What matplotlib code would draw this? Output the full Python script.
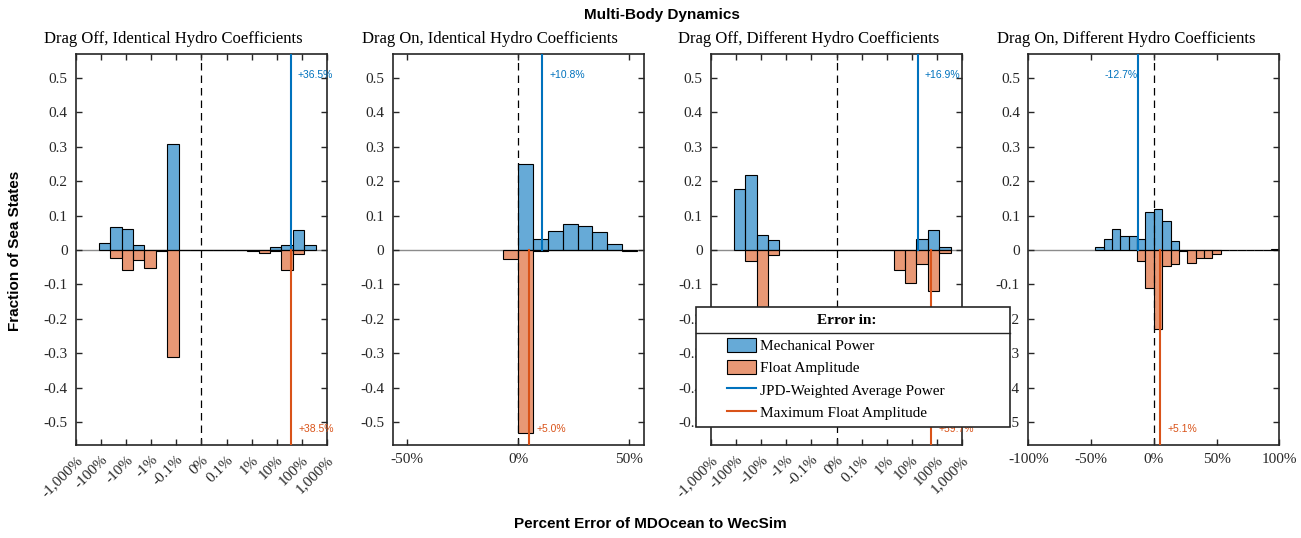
#!/usr/bin/env python3
"""Multi-Body Dynamics: histograms of percent error, MDOcean vs WecSim."""

import numpy as np
import matplotlib.pyplot as plt
from matplotlib.colors import to_rgba
from matplotlib.patches import Rectangle, Patch
from matplotlib.lines import Line2D

W, H = 1301, 538

TITLES = [
    "Drag Off, Identical Hydro Coefficients",
    "Drag On, Identical Hydro Coefficients",
    "Drag Off, Different Hydro Coefficients",
    "Drag On, Different Hydro Coefficients",
]

# symlog panels: fraction of sea states per bin, 22 bins spanning -1,000% .. 1,000%
P1_POWER = [0, 0, 0.020, 0.066, 0.062, 0.014, 0, 0, 0.309, 0, 0,
            0, 0, 0, 0, 0, 0, 0.010, 0.015, 0.057, 0.014, 0]
P1_AMP = [0, 0, 0, 0.023, 0.057, 0.028, 0.052, 0.004, 0.311, 0, 0,
          0, 0, 0, 0, 0.004, 0.009, 0.003, 0.057, 0.013, 0, 0]
P3_POWER = [0, 0, 0.176, 0.218, 0.043, 0.028, 0, 0, 0, 0, 0,
            0, 0, 0, 0, 0, 0, 0, 0.033, 0.057, 0.009, 0]
P3_AMP = [0, 0, 0, 0.033, 0.190, 0.014, 0, 0, 0, 0, 0,
          0, 0, 0, 0, 0, 0.057, 0.095, 0.041, 0.119, 0.010, 0]

# linear panels: bins of width 20/3 %
BIN_W = 20 / 3
P2_START = -20 / 3
P2_POWER = [0, 0.251, 0.033, 0.056, 0.077, 0.071, 0.052, 0.018, 0]
P2_AMP = [0.027, 0.532, 0.003, 0, 0, 0, 0, 0, 0.003]
P4_START = -140 / 3
P4_POWER = [0.010, 0.033, 0.062, 0.042, 0.042, 0.033, 0.110, 0.118, 0.085, 0.025, 0,
            0, 0, 0, 0, 0, 0, 0, 0, 0, 0, 0.003]
P4_AMP = [0, 0, 0, 0, 0, 0.032, 0.110, 0.230, 0.047, 0.042, 0.003,
          0.037, 0.023, 0.022, 0.013, 0, 0, 0, 0, 0, 0, 0]

AVG_POWER_ERR = [36.5, 10.8, 16.9, -12.7]
MAX_AMP_ERR = [38.5, 5.0, 59.7, 5.1]

SYM_TICKS = list(range(-5, 6))
SYM_LABELS = ["-1,000%", "-100%", "-10%", "-1%", "-0.1%", "0%",
              "0.1%", "1%", "10%", "100%", "1,000%"]
P2_TICKS = [-50, 0, 50]
P4_TICKS = [-100, -50, 0, 50, 100]

BLUE = (0, 0.447, 0.741)
ORANGE = (0.85, 0.325, 0.098)
GRAY = "#262626"
SERIF = "Liberation Serif"
SANS = "Liberation Sans"


def sym_pos(e):
    return np.sign(e) * (np.log10(abs(e)) + 2)


def draw_hist(ax, start, width, vals, color, sign):
    vals = np.asarray(vals, dtype=float)
    nz = np.nonzero(vals)[0]
    lo, hi = nz[0], nz[-1]
    idx = np.arange(lo, hi + 1)
    ax.bar(start + idx * width, sign * vals[idx], width=width, align="edge",
           facecolor=to_rgba(color, 0.6), edgecolor="k", linewidth=0.8, zorder=2)


fig = plt.figure(figsize=(W / 100, H / 100), dpi=100)

lefts = [76, 392.7, 711, 1028.3]
ax_w, ax_top, ax_bot = 251, 54, 445
sym_w = 10 / 22

panels = [
    ("sym", -5, sym_w, P1_POWER, P1_AMP),
    ("lin", P2_START, BIN_W, P2_POWER, P2_AMP),
    ("sym", -5, sym_w, P3_POWER, P3_AMP),
    ("lin", P4_START, BIN_W, P4_POWER, P4_AMP),
]

for i, (kind, start, bw, pw, amp) in enumerate(panels):
    ax = fig.add_axes([lefts[i] / W, 1 - ax_bot / H, ax_w / W, (ax_bot - ax_top) / H])
    ax.axhline(0, color="#8c8c8c", lw=1.0, zorder=1)
    ax.axvline(0, color="k", lw=0.9, ls=(0, (6, 4)), zorder=1.5)
    draw_hist(ax, start, bw, pw, BLUE, 1)
    draw_hist(ax, start, bw, amp, ORANGE, -1)

    if kind == "sym":
        xp, xa = sym_pos(AVG_POWER_ERR[i]), sym_pos(MAX_AMP_ERR[i])
        ax.set_xlim(-5, 5)
        ax.set_xticks(SYM_TICKS)
        ax.set_xticklabels(SYM_LABELS, rotation=45, ha="right", va="top",
                           rotation_mode="anchor")
    else:
        xp, xa = AVG_POWER_ERR[i], MAX_AMP_ERR[i]
        if i == 1:
            ax.set_xlim(-56.4, 56.4)
            ticks = P2_TICKS
        else:
            ax.set_xlim(-100, 100)
            ticks = P4_TICKS
        ax.set_xticks(ticks)
        ax.set_xticklabels([f"{t}%" for t in ticks])

    ylim = (-0.567, 0.57)
    ax.set_ylim(*ylim)
    ax.plot([xp, xp], [0, ylim[1]], color=BLUE, lw=1.5, zorder=3)
    ax.plot([xa, xa], [ylim[0], 0], color=ORANGE, lw=1.5, zorder=3)

    if AVG_POWER_ERR[i] >= 0:
        ax.annotate(f"+{AVG_POWER_ERR[i]:.1f}%", (xp, 0.51), xytext=(5, 0),
                    textcoords="offset points", ha="left", va="center",
                    color=BLUE, fontsize=7.5, family=SANS, zorder=4)
    else:
        ax.annotate(f"{AVG_POWER_ERR[i]:.1f}%", (xp, 0.51), xytext=(-0.5, 0),
                    textcoords="offset points", ha="right", va="center",
                    color=BLUE, fontsize=7.5, family=SANS, zorder=4)
    ax.annotate(f"+{MAX_AMP_ERR[i]:.1f}%", (xa, -0.52), xytext=(5, 0),
                textcoords="offset points", ha="left", va="center",
                color=ORANGE, fontsize=7.5, family=SANS, zorder=4)

    ax.set_yticks(np.round(np.arange(-0.5, 0.51, 0.1), 1))
    ax.set_yticklabels(["0" if abs(v) < 1e-9 else f"{v:g}"
                        for v in np.round(np.arange(-0.5, 0.51, 0.1), 1)])
    ax.tick_params(direction="in", top=True, right=True, length=4, width=1,
                   colors=GRAY, labelsize=11, pad=6)
    for lab in ax.get_xticklabels() + ax.get_yticklabels():
        lab.set_family(SERIF)
    for sp in ax.spines.values():
        sp.set_color(GRAY)
        sp.set_linewidth(1.2)

    cx = (lefts[i] + ax_w / 2 - 28) / W
    fig.text(cx, 1 - 39 / H, TITLES[i], ha="center", va="center",
             fontsize=12, family=SERIF, color="k")

fig.text(662 / W, 1 - 15 / H, "Multi-Body Dynamics", ha="center", va="center",
         fontsize=11, weight="bold", family=SANS)
fig.text(650 / W, 1 - 524 / H, "Percent Error of MDOcean to WecSim",
         ha="center", va="center", fontsize=11, weight="bold", family=SANS)
fig.text(15 / W, 1 - 251 / H, "Fraction of Sea States", rotation=90,
         ha="center", va="center", fontsize=11, weight="bold", family=SANS)

# legend box with title row
bx0, bx1, by0, by1, bsep = 696, 1010, 307, 427, 333
fig.add_artist(Rectangle((bx0 / W, 1 - by1 / H), (bx1 - bx0) / W, (by1 - by0) / H,
                         transform=fig.transFigure, facecolor="white",
                         edgecolor=GRAY, lw=1.2, zorder=4))
fig.add_artist(Line2D([bx0 / W, bx1 / W], [1 - bsep / H, 1 - bsep / H],
                      transform=fig.transFigure, color=GRAY, lw=1.0, zorder=4.1))
fig.text(847 / W, 1 - 321 / H, "Error in:", ha="center", va="center",
         fontsize=11, weight="bold", family=SERIF, zorder=4.2)

handles = [
    Patch(facecolor=to_rgba(BLUE, 0.6), edgecolor="k", lw=0.8),
    Patch(facecolor=to_rgba(ORANGE, 0.6), edgecolor="k", lw=0.8),
    Line2D([], [], color=BLUE, lw=1.5),
    Line2D([], [], color=ORANGE, lw=1.5),
]
labels = ["Mechanical Power", "Float Amplitude",
          "JPD-Weighted Average Power", "Maximum Float Amplitude"]
leg = fig.legend(handles, labels, loc="upper left",
                 bbox_to_anchor=(727 / W, 1 - 338 / H), frameon=False,
                 borderpad=0, borderaxespad=0, handlelength=1.9,
                 handleheight=1.05, handletextpad=0.25, labelspacing=0.45,
                 prop={"family": SERIF, "size": 11})
leg.set_zorder(5)

fig.savefig("out.png", dpi=100)
